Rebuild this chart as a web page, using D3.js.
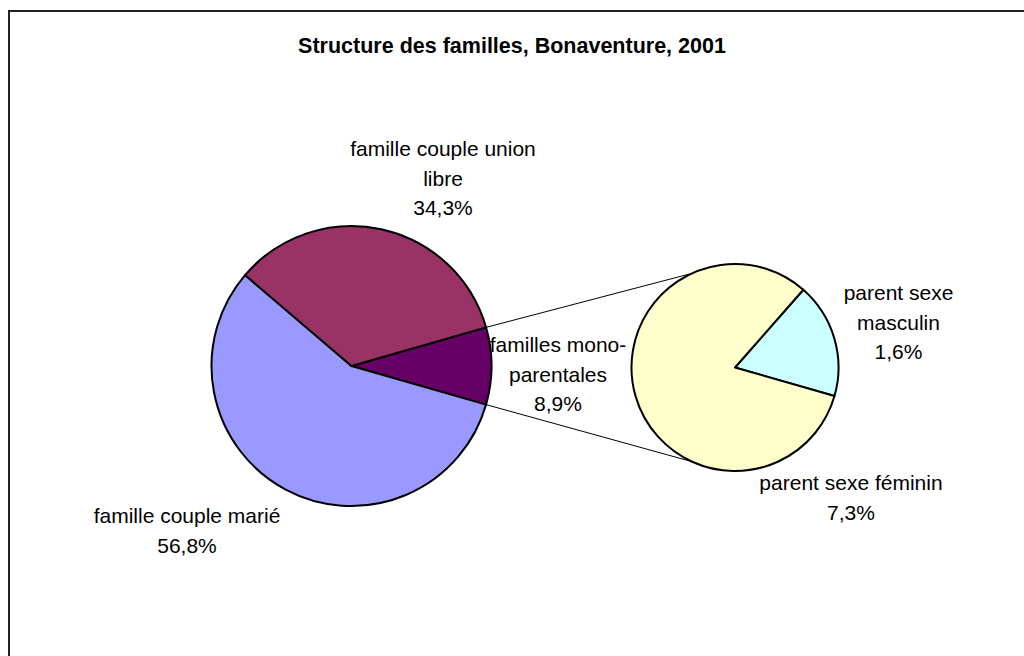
<!DOCTYPE html>
<html>
<head>
<meta charset="utf-8">
<script src="https://cdn.jsdelivr.net/npm/d3@7"></script>
<style>
  body { margin: 0; background: #fff; }
  text { font-family: "Liberation Sans", Arial, sans-serif; fill: #000; }
</style>
</head>
<body>
<div id="chart"></div>
<script>
// data
var title = "Structure des familles, Bonaventure, 2001";
var mainCategories = ["famille couple marié", "famille couple union libre", "familles mono-parentales"];
var mainValues = [56.8, 34.3, 8.9];
var mainColors = ["#9999FF", "#993366", "#660066"];
var mainLabelLines = [["famille couple marié"], ["famille couple union", "libre"], ["familles mono-", "parentales"]];

var subCategories = ["parent sexe féminin", "parent sexe masculin"];
var subValues = [7.3, 1.6];
var subColors = ["#FFFFCC", "#CCFFFF"];
var subLabelLines = [["parent sexe féminin"], ["parent sexe", "masculin"]];

// layout
var width = 1024, height = 656;
var main = { cx: 351.5, cy: 366, r: 140 };
var sub = { cx: 735, cy: 367.5, r: 103.5 };
var connAngle = 114.5; // degrees, where the connector lines meet the second pie
var lineHeight = 29.5;
// label offsets (centre x, first baseline) relative to each pie centre
var mainLabelPos = [[-164.5, 157], [91.5, -210], [206.5, -14]];
var subLabelPos = [[116, 122.5], [163.5, -67.5]];

var fmt = function (v) { return d3.format(".1f")(v).replace(".", ",") + "%"; };

var svg = d3.select("#chart").append("svg")
  .attr("width", width)
  .attr("height", height);

// chart border (runs off the right and bottom)
svg.append("rect")
  .attr("x", 9).attr("y", 11)
  .attr("width", 1040).attr("height", 700)
  .attr("fill", "none")
  .attr("stroke", "#222")
  .attr("stroke-width", 2);

svg.append("text")
  .attr("x", width / 2)
  .attr("y", 53)
  .attr("text-anchor", "middle")
  .style("font-size", "21.5px")
  .style("font-weight", "bold")
  .text(title);

// main pie: mono-parental slice centred on 3 o'clock
var total = d3.sum(mainValues);
var monoHalf = mainValues[2] / total * Math.PI;
var mainOrder = [2, 0, 1];
var mainPie = d3.pie().sort(null)
  .value(function (i) { return mainValues[i]; })
  .startAngle(Math.PI / 2 - monoHalf)
  .endAngle(Math.PI / 2 - monoHalf + 2 * Math.PI);
var mainArcs = mainPie(mainOrder);

// second pie: masculin slice ends at the bottom edge of the mono slice
var subTotal = d3.sum(subValues);
var mascSpan = subValues[1] / subTotal * 2 * Math.PI;
var subStart = Math.PI / 2 + monoHalf - mascSpan;
var subPie = d3.pie().sort(null)
  .value(function (i) { return subValues[i]; })
  .startAngle(subStart)
  .endAngle(subStart + 2 * Math.PI);
var subArcs = subPie([1, 0]);

function pt(c, r, a) {
  return [c.cx + r * Math.sin(a), c.cy - r * Math.cos(a)];
}

// connector lines
var monoArc = mainArcs[0];
var ca = connAngle * Math.PI / 180;
var connectors = [
  [pt(main, main.r, monoArc.startAngle), pt(sub, sub.r, Math.PI / 2 - ca)],
  [pt(main, main.r, monoArc.endAngle), pt(sub, sub.r, Math.PI / 2 + ca)]
];
svg.append("g").selectAll("line")
  .data(connectors)
  .enter().append("line")
  .attr("x1", function (d) { return d[0][0]; })
  .attr("y1", function (d) { return d[0][1]; })
  .attr("x2", function (d) { return d[1][0]; })
  .attr("y2", function (d) { return d[1][1]; })
  .attr("stroke", "#000")
  .attr("stroke-width", 1);

var mainArc = d3.arc().innerRadius(0).outerRadius(main.r);
svg.append("g")
  .attr("transform", "translate(" + main.cx + "," + main.cy + ")")
  .selectAll("path")
  .data(mainArcs)
  .enter().append("path")
  .attr("d", mainArc)
  .attr("fill", function (d) { return mainColors[d.data]; })
  .attr("stroke", "#000")
  .attr("stroke-width", 2)
  .attr("stroke-linejoin", "round");

var subArc = d3.arc().innerRadius(0).outerRadius(sub.r);
svg.append("g")
  .attr("transform", "translate(" + sub.cx + "," + sub.cy + ")")
  .selectAll("path")
  .data(subArcs)
  .enter().append("path")
  .attr("d", subArc)
  .attr("fill", function (d) { return subColors[d.data]; })
  .attr("stroke", "#000")
  .attr("stroke-width", 2)
  .attr("stroke-linejoin", "round");

// labels
function drawLabel(c, pos, lines, value) {
  var all = lines.concat([fmt(value)]);
  var t = svg.append("text")
    .attr("text-anchor", "middle")
    .style("font-size", "21px");
  all.forEach(function (s, k) {
    t.append("tspan")
      .attr("x", c.cx + pos[0])
      .attr("y", c.cy + pos[1] + k * lineHeight)
      .text(s);
  });
}
mainValues.forEach(function (v, i) {
  drawLabel(main, mainLabelPos[i], mainLabelLines[i], v);
});
subValues.forEach(function (v, i) {
  drawLabel(sub, subLabelPos[i], subLabelLines[i], v);
});
</script>
</body>
</html>
